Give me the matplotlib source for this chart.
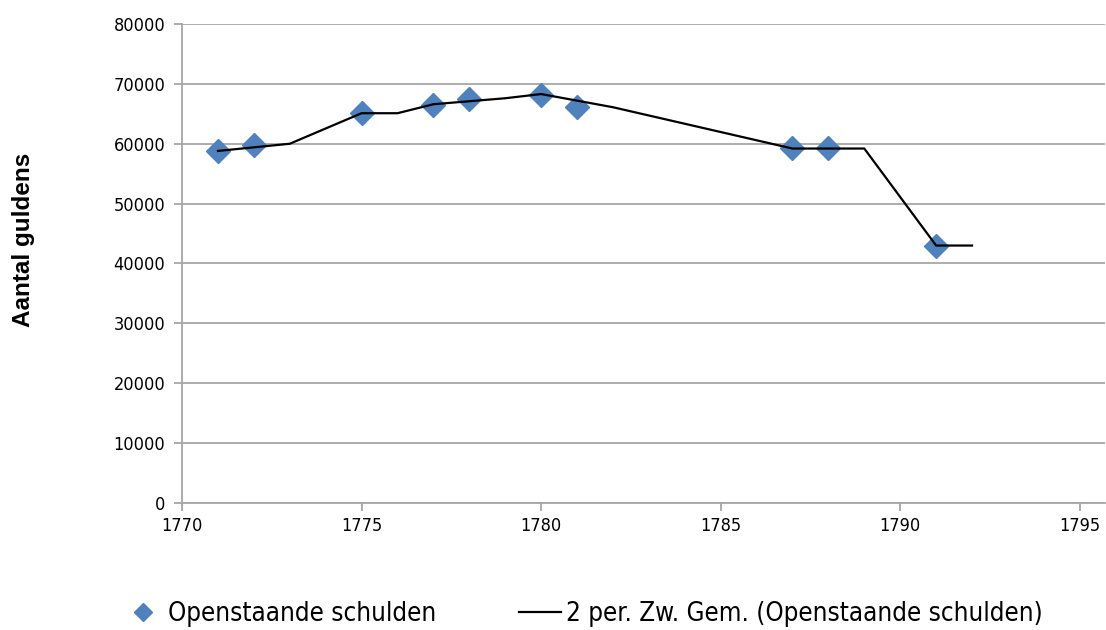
import matplotlib.pyplot as plt
from matplotlib.lines import Line2D
from matplotlib import font_manager

# ---- data ----
years = [1771, 1772, 1775, 1777, 1778, 1780, 1781, 1787, 1788, 1791]
schulden = [58800, 59800, 65100, 66500, 67500, 68100, 66100, 59300, 59300, 42900]

# 2-period moving average (trendline vertices as drawn)
ma_years = [1771, 1773, 1775, 1776, 1777, 1778, 1779, 1780, 1782, 1787, 1789, 1791, 1792]
ma_vals = [58800, 60000, 65100, 65100, 66600, 67100, 67600, 68300, 66100, 59200, 59200, 43000, 43000]

xticks = [1770, 1775, 1780, 1785, 1790, 1795]
yticks = [0, 10000, 20000, 30000, 40000, 50000, 60000, 70000, 80000]

grey = '#A6A6A6'
blue = '#4F81BD'

fig = plt.figure(figsize=(11.06, 6.30), dpi=100)
ax = fig.add_axes([0.1646, 0.2016, 0.8344, 0.7603])

ax.plot(years, schulden, linestyle='none', marker='D', markersize=12,
        color=blue, zorder=3)
ax.plot(ma_years, ma_vals, color='black', linewidth=1.6, zorder=4)

ax.set_xlim(1770, 1795.7)
ax.set_ylim(0, 80000)
ax.set_xticks(xticks)
ax.set_yticks(yticks)
tick_kw = dict(family='DejaVu Sans', fontstretch='condensed', fontsize=13)
ax.set_xticklabels([str(t) for t in xticks], **tick_kw)
ax.set_yticklabels([str(t) for t in yticks], **tick_kw)

ax.grid(axis='y', color=grey, linewidth=1.3)
ax.set_axisbelow(True)
for side in ['top', 'right']:
    ax.spines[side].set_visible(False)
for side in ['left', 'bottom']:
    ax.spines[side].set_color(grey)
    ax.spines[side].set_linewidth(1.3)
ax.tick_params(axis='both', color=grey, width=1.3, length=6, colors='black')
ax.tick_params(axis='y', pad=6)
ax.tick_params(axis='x', pad=4)

fig.text(0.021, 0.619, 'Aantal guldens', rotation=90, ha='center', va='center',
         family='Liberation Sans', fontweight='bold', fontsize=17.5)

# ---- legend below the plot ----
handles = [
    Line2D([], [], linestyle='none', marker='D', markersize=9, color=blue),
    Line2D([], [], color='black', linewidth=1.6),
]
leg_font = font_manager.FontProperties(family='DejaVu Sans', stretch='condensed', size=18.6)
fig.legend(handles, ['Openstaande schulden', '2 per. Zw. Gem. (Openstaande schulden)'],
           loc='center left', bbox_to_anchor=(122 / 1106, 0.025), ncol=2, frameon=False,
           prop=leg_font, handlelength=1.6, borderpad=0, borderaxespad=0,
           handletextpad=0.2, columnspacing=3.2)

fig.savefig('out.png', dpi=100)
